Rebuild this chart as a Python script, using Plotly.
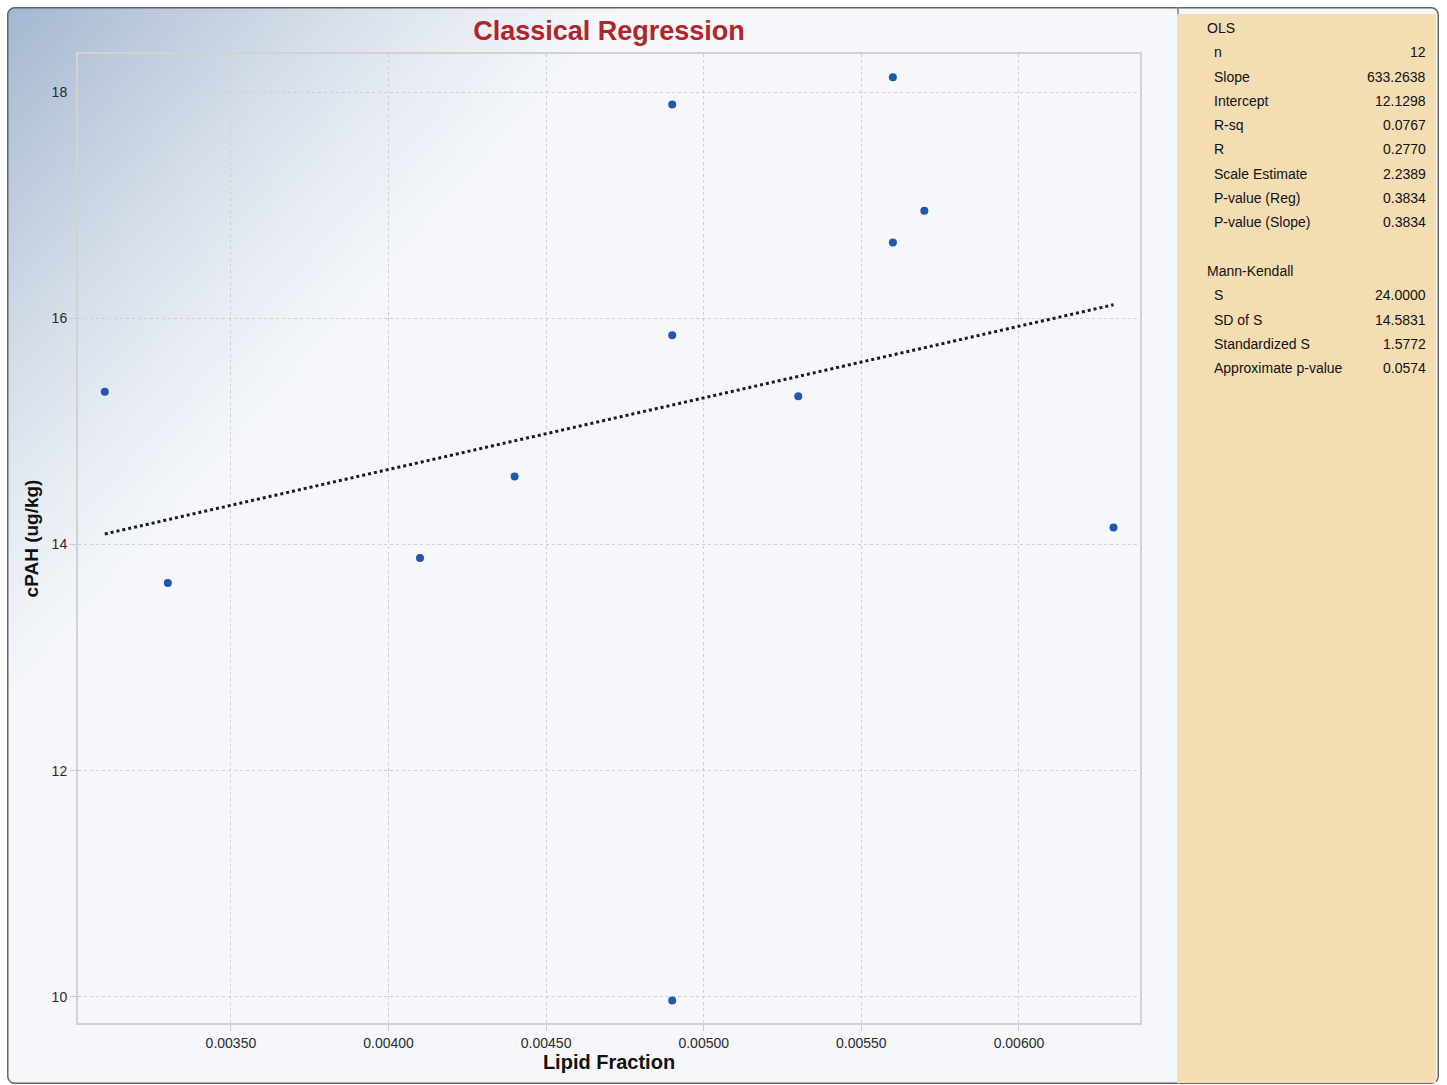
import base64
import plotly.graph_objects as go

# ---------------- data ----------------
lipid_fraction = [0.0031, 0.0033, 0.0041, 0.0044, 0.0049, 0.0049, 0.0049,
                  0.0053, 0.0056, 0.0056, 0.0057, 0.0063]
cpah = [15.35, 13.66, 13.88, 14.60, 17.89, 15.85, 9.97,
        15.31, 18.13, 16.67, 16.95, 14.15]

ols_slope = 633.2638
ols_intercept = 12.1298

x_tick_vals = [0.0035, 0.0040, 0.0045, 0.0050, 0.0055, 0.0060]
x_tick_text = ["0.00350", "0.00400", "0.00450", "0.00500", "0.00550", "0.00600"]
y_tick_vals = [10, 12, 14, 16, 18]

ols_labels = ["n", "Slope", "Intercept", "R-sq", "R", "Scale Estimate",
              "P-value (Reg)", "P-value (Slope)"]
ols_values = ["12", "633.2638", "12.1298", "0.0767", "0.2770", "2.2389",
              "0.3834", "0.3834"]
mk_labels = ["S", "SD of S", "Standardized S", "Approximate p-value"]
mk_values = ["24.0000", "14.5831", "1.5772", "0.0574"]

# ---------------- geometry helpers ----------------
W, H = 1447, 1085


def px(x):
    return x / W


def py(y):
    return 1 - y / H


# ---------------- figure ----------------
fig = go.Figure()

# regression line
x_line = [min(lipid_fraction), max(lipid_fraction)]
y_line = [ols_intercept + ols_slope * v for v in x_line]
fig.add_trace(go.Scatter(
    x=x_line, y=y_line, mode="lines",
    line=dict(color="#1a1a1a", width=3, dash="dot"),
    hoverinfo="skip", showlegend=False))

# points
fig.add_trace(go.Scatter(
    x=lipid_fraction, y=cpah, mode="markers",
    marker=dict(color="#2158ad", size=8, line=dict(width=0)),
    showlegend=False))

# background frame with gradient (svg image)
fw, fh = 1439 - 7, 1084 - 7
svg = (f"<svg xmlns='http://www.w3.org/2000/svg' width='{fw}' height='{fh}'>"
       "<defs><linearGradient id='g' gradientUnits='userSpaceOnUse' x1='0' y1='0' x2='350' y2='310'>"
       "<stop offset='0' stop-color='#a3b7d1'/>"
       "<stop offset='0.25' stop-color='#bccadc'/>"
       "<stop offset='0.5' stop-color='#d3dce8'/>"
       "<stop offset='0.75' stop-color='#e7ecf3'/>"
       "<stop offset='1' stop-color='#f5f7fb'/></linearGradient></defs>"
       f"<rect x='0.75' y='0.75' width='{fw - 1.5}' height='{fh - 1.5}' rx='7' ry='7' "
       "fill='url(#g)' stroke='#646464' stroke-width='1.5'/>"
       f"<line x1='{1178 - 7}' y1='0' x2='{1178 - 7}' y2='{fh}' stroke='#7a8796' stroke-width='1.5'/>"
       "</svg>")
src = "data:image/svg+xml;base64," + base64.b64encode(svg.encode()).decode()
fig.add_layout_image(dict(
    source=src, xref="paper", yref="paper",
    x=px(7), y=py(7), sizex=px(1439) - px(7), sizey=py(7) - py(1084),
    xanchor="left", yanchor="top", sizing="stretch", layer="below"))

# right stats panel fill
fig.add_shape(type="rect", xref="paper", yref="paper",
              x0=px(1177), x1=px(1436), y0=py(1083), y1=py(14),
              fillcolor="#f4ddb2", line=dict(width=0), layer="below")

# stats text
txt_font = dict(family="Liberation Sans, Arial, sans-serif", size=14, color="#111111")
row_h = 24.3
y0 = 28


def row_y(i):
    return py(y0 + i * row_h)


fig.add_annotation(text="OLS", x=px(1205), y=row_y(0), xref="paper", yref="paper",
                   xanchor="left", yanchor="middle", showarrow=False, font=txt_font)
for i, (lab, val) in enumerate(zip(ols_labels, ols_values)):
    fig.add_annotation(text=lab, x=px(1212), y=row_y(i + 1), xref="paper", yref="paper",
                       xanchor="left", yanchor="middle", showarrow=False, font=txt_font)
    fig.add_annotation(text=val, x=px(1428), y=row_y(i + 1), xref="paper", yref="paper",
                       xanchor="right", yanchor="middle", showarrow=False, font=txt_font)
k0 = len(ols_labels) + 2
fig.add_annotation(text="Mann-Kendall", x=px(1205), y=row_y(k0), xref="paper", yref="paper",
                   xanchor="left", yanchor="middle", showarrow=False, font=txt_font)
for i, (lab, val) in enumerate(zip(mk_labels, mk_values)):
    fig.add_annotation(text=lab, x=px(1212), y=row_y(k0 + i + 1), xref="paper", yref="paper",
                       xanchor="left", yanchor="middle", showarrow=False, font=txt_font)
    fig.add_annotation(text=val, x=px(1428), y=row_y(k0 + i + 1), xref="paper", yref="paper",
                       xanchor="right", yanchor="middle", showarrow=False, font=txt_font)

tick_font = dict(family="Liberation Sans, Arial, sans-serif", size=14, color="#2a2a2a")

fig.update_layout(
    width=W, height=H,
    margin=dict(l=0, r=0, t=0, b=0),
    paper_bgcolor="white",
    plot_bgcolor="rgba(0,0,0,0)",
    showlegend=False,
    title=dict(text="<b>Classical Regression</b>", x=px(609), y=py(31),
               xanchor="center", yanchor="middle", xref="paper", yref="paper",
               font=dict(family="Liberation Sans, Arial, sans-serif", size=27, color="#b1252a")),
    xaxis=dict(
        domain=[px(78), px(1140)],
        range=[0.003015, 0.006384],
        tickvals=x_tick_vals, ticktext=x_tick_text,
        tickfont=tick_font,
        showgrid=True, gridcolor="#cfcfcf", griddash="dot", gridwidth=1,
        ticks="outside", ticklen=6, tickcolor="#cccccc", tickwidth=1,
        showline=True, linecolor="#d2d2d2", linewidth=2, mirror=True,
        zeroline=False,
        title=dict(text="<b>Lipid Fraction</b>", standoff=3,
                   font=dict(family="Liberation Sans, Arial, sans-serif", size=20, color="#111111")),
    ),
    yaxis=dict(
        domain=[py(1023), py(54)],
        range=[9.77, 18.336],
        tickvals=y_tick_vals,
        tickfont=tick_font,
        showgrid=True, gridcolor="#cfcfcf", griddash="dot", gridwidth=1,
        ticks="outside", ticklen=6, tickcolor="#cccccc", tickwidth=1,
        showline=True, linecolor="#d2d2d2", linewidth=2, mirror=True,
        zeroline=False,
        title=dict(text="<b>cPAH (ug/kg)</b>", standoff=8,
                   font=dict(family="Liberation Sans, Arial, sans-serif", size=19, color="#111111")),
    ),
)

fig.write_html("out.html", config={"displayModeBar": False},
               post_script="document.body.style.margin='0';")
